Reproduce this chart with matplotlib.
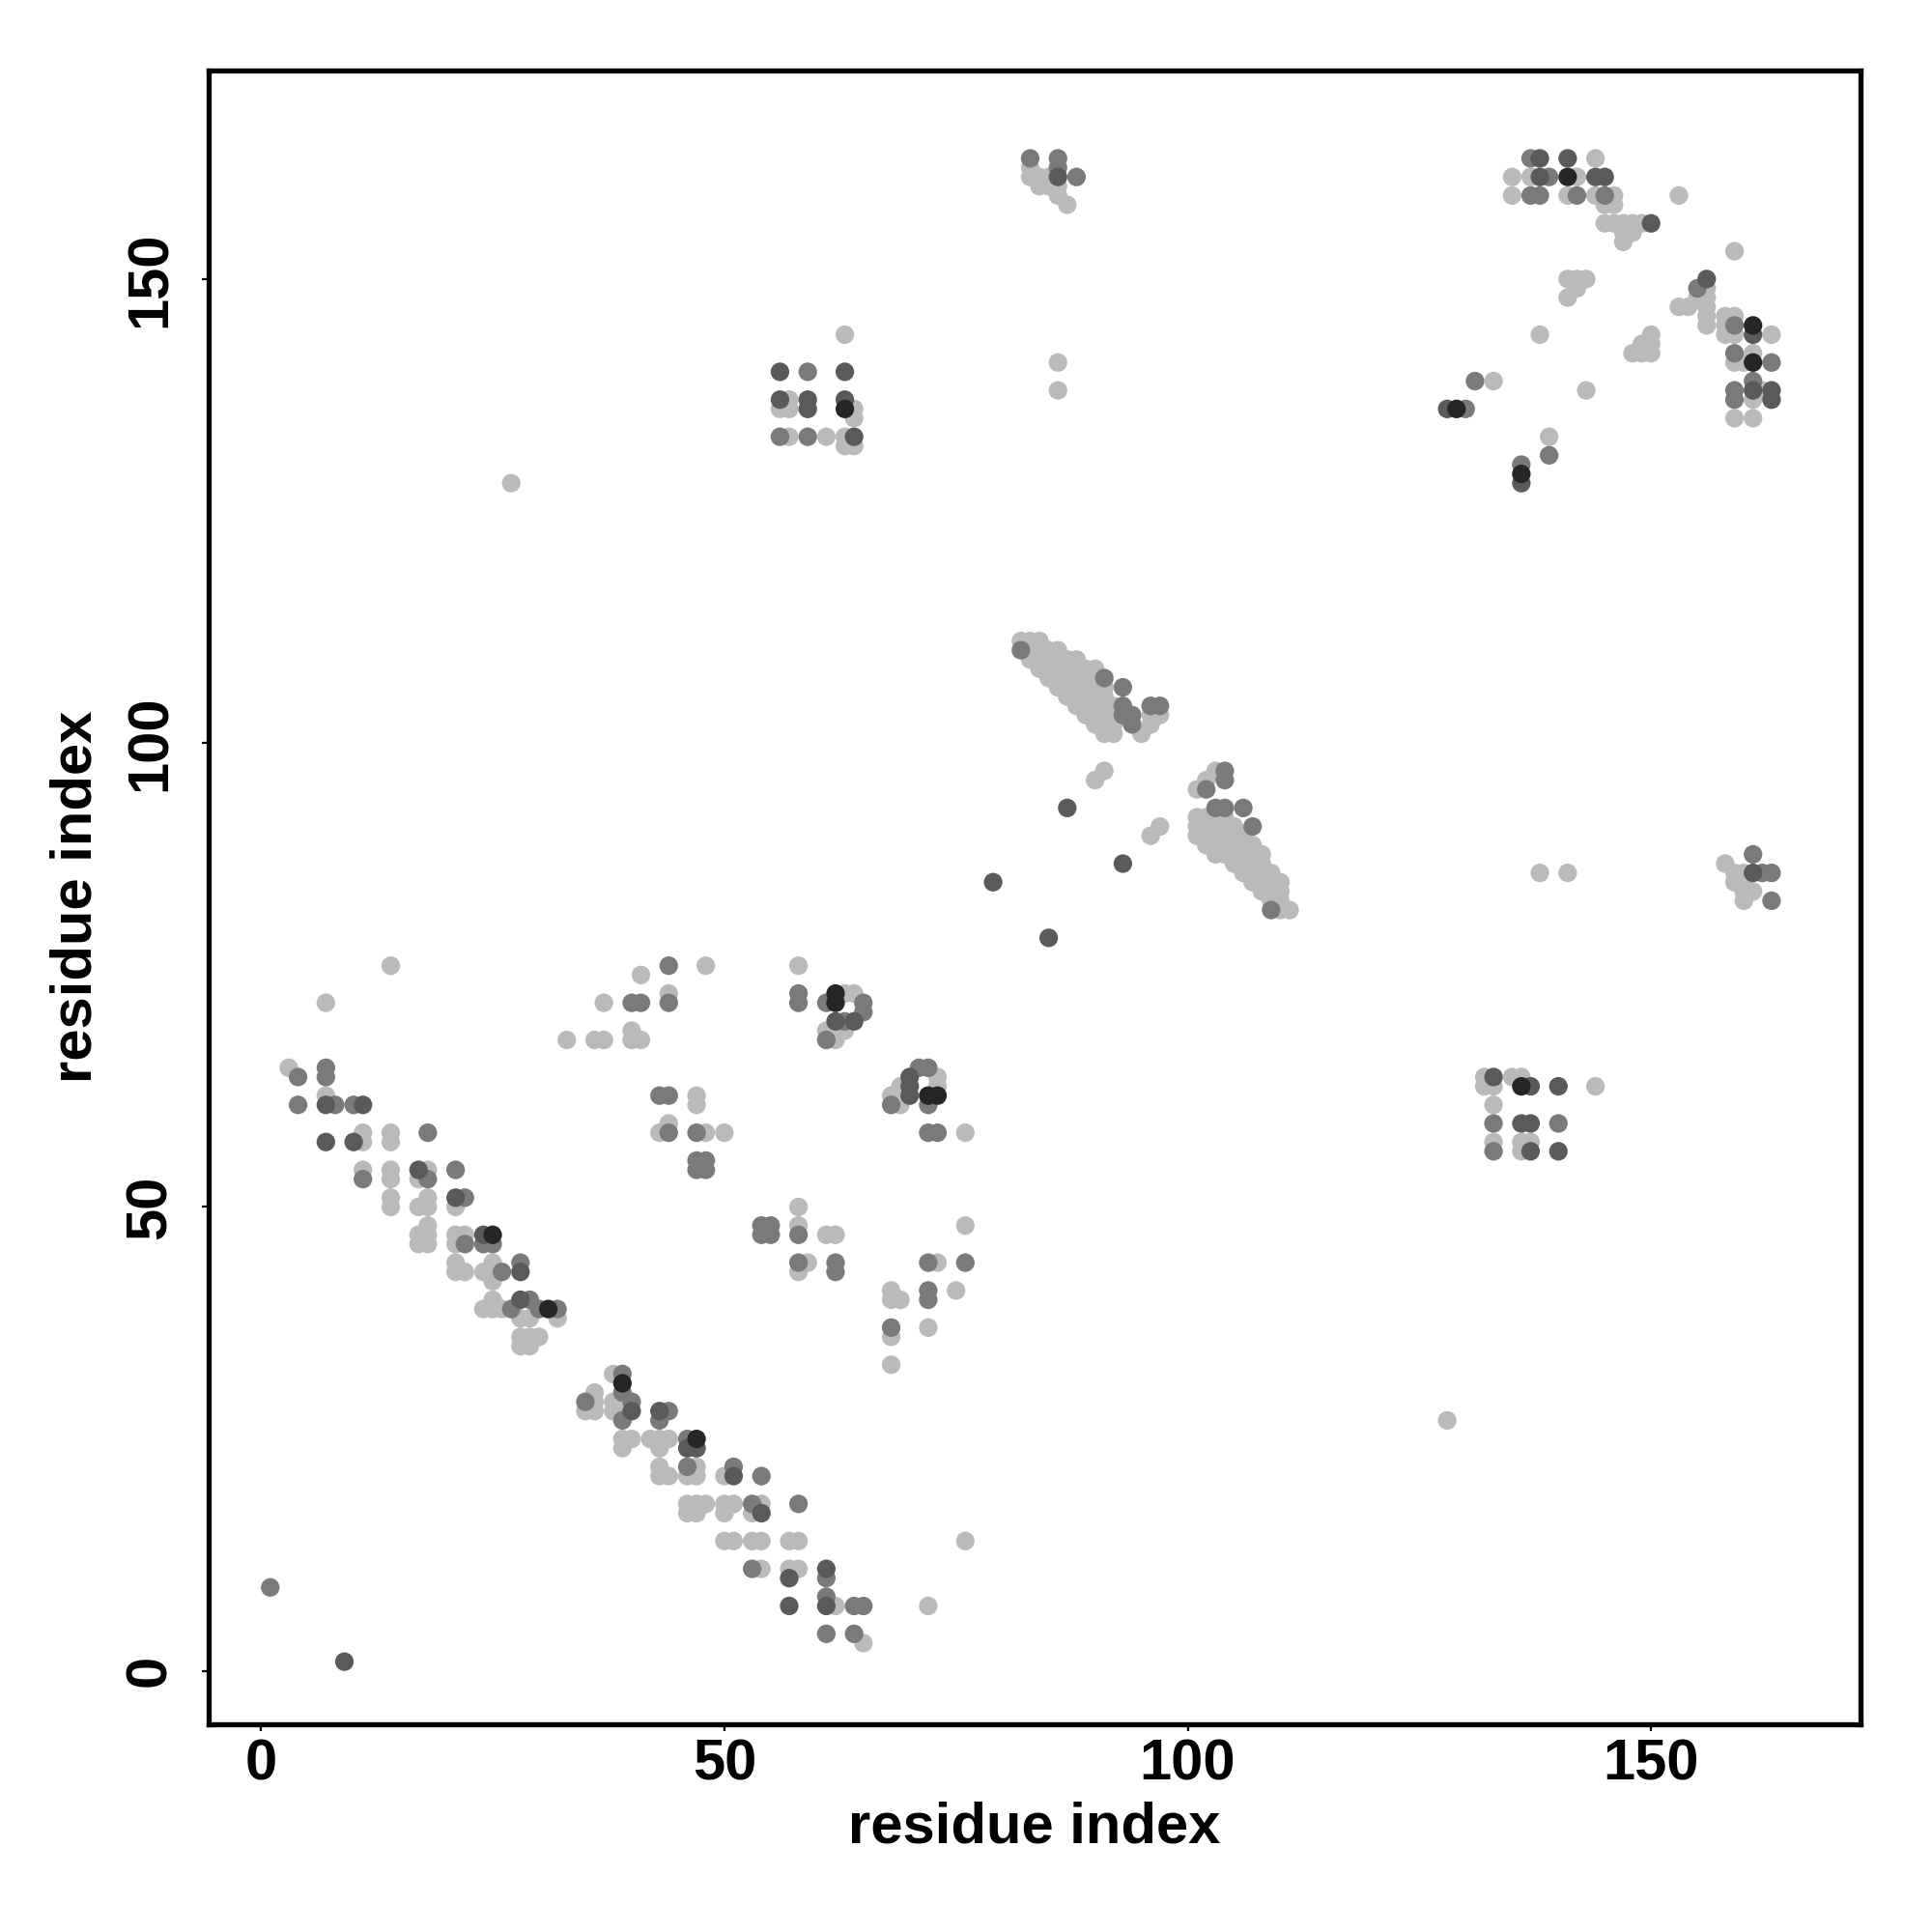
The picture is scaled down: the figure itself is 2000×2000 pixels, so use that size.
import matplotlib
matplotlib.use("Agg")
import matplotlib.pyplot as plt

# contact pairs (residue i, residue j), grouped by grey level
light_pairs = [
    (3,65),(7,62),(11,58),(11,57),(14,58),(14,57),(11,54),(14,54),(14,53),(18,54),(17,53),
    (14,51),(14,50),(17,50),(18,51),(18,50),(21,50),(18,48),(17,47),(17,46),(18,47),(18,46),
    (21,47),(22,47),(21,46),(21,44),(21,43),(22,43),(24,43),(25,44),(25,42),(24,39),(25,40),
    (25,39),(26,39),(28,38),(29,38),(32,38),(28,36),(29,36),(30,36),(28,35),(29,35),
    (7,72),(14,76),(33,68),(36,68),(37,68),
    (68,36),(68,33),(38,32),(35,28),(36,30),(36,29),(36,28),(38,29),(38,28),(39,28),(39,25),
    (39,24),(40,25),(42,25),(43,25),(44,25),(43,24),(43,22),(43,21),(44,21),(47,22),(46,21),
    (47,21),(50,21),(46,18),(47,18),(48,18),(46,17),(47,17),(50,18),(51,18),(50,17),(54,18),
    (53,17),(50,14),(51,14),(53,14),(54,14),(57,14),(58,14),(54,11),(57,11),(58,11),(62,7),(65,3),
    (41,75),(48,76),(58,76),(37,72),(44,73),(40,69),(40,68),(41,68),(63,73),(64,73),(61,69),
    (62,69),(63,69),(62,68),(47,62),(47,61),(43,58),(44,59),(48,58),(50,58),(68,62),(69,63),
    (73,64),(73,63),(69,61),(76,58),(58,50),(58,48),(61,47),(62,47),(59,44),(58,43),(68,41),
    (69,40),(68,40),(73,44),(76,48),(75,41),(72,37),(72,7),(76,14),
    # antiparallel band 82-92 / 101-111
    (82,111),(83,111),(83,110),(83,109),(84,111),(84,110),(84,109),(84,108),
    (85,110),(85,109),(85,108),(85,107),(86,110),(86,109),(86,108),(86,107),(86,106),
    (87,109),(87,108),(87,107),(87,106),(87,105),(88,109),(88,108),(88,107),(88,106),(88,105),(88,104),
    (89,108),(89,107),(89,106),(89,105),(89,104),(89,103),
    (90,108),(90,107),(90,106),(90,105),(90,104),(90,103),(90,102),
    (91,106),(91,105),(91,104),(91,103),(91,102),(91,101),(92,104),(92,103),(92,102),(92,101),
    (96,103),(97,103),(96,102),(95,101),(90,96),(91,97),(96,90),(97,91),
    # band 101-111 / 82-92
    (103,97),(102,96),(101,95),
    (101,92),(101,91),(101,90),(102,92),(102,91),(102,90),(102,89),
    (103,92),(103,91),(103,90),(103,89),(103,88),(104,92),(104,91),(104,90),(104,89),(104,88),
    (105,91),(105,90),(105,89),(105,88),(105,87),(106,90),(106,89),(106,88),(106,87),(106,86),
    (107,89),(107,88),(107,87),(107,86),(107,85),(108,88),(108,87),(108,86),(108,85),(108,84),
    (109,86),(109,85),(109,84),(109,83),(110,85),(110,84),(110,83),(110,82),(111,82),
    (63,144),(57,137),(56,136),(57,136),(64,136),(64,135),(57,133),(61,133),(63,133),(63,132),(64,132),
    (83,161),(84,161),(84,160),(85,161),(85,160),(86,159),(87,158),(86,160),(83,162),(86,141),(86,138),
    (144,163),(135,161),(137,161),(142,161),(135,159),(141,159),(144,159),(146,159),(145,158),(146,158),
    (145,156),(146,156),(147,156),(148,156),(149,156),(147,155),(148,155),(147,154),(153,159),
    (141,150),(142,150),(143,150),(141,148),(142,149),(138,144),
    (148,142),(149,142),(150,144),(150,142),(149,143),(150,143),(143,138),(133,139),(139,133),
    (159,153),(153,147),(154,147),(155,148),(156,149),(156,148),(156,147),(156,146),(156,145),
    (158,146),(159,146),(158,145),(158,144),(159,144),(163,144),(159,141),(160,141),(161,142),
    (162,138),(161,137),(159,135),(161,135),
    (132,64),(132,63),(133,63),(135,64),(136,64),(144,63),(133,61),(133,57),(136,57),(137,57),(136,56),
    (138,86),(141,86),(158,87),(159,86),(159,85),(160,85),(161,84),(160,83),(160,86),(160,84),
    (27,128),(128,27),
]

mid_pairs = [
    (4,64),(7,65),(7,64),(4,61),(8,61),(10,61),(18,58),(11,53),(18,53),(21,54),(22,51),(22,46),
    (24,46),(25,46),(26,43),(28,44),(27,39),(29,40),(30,39),(32,39),
    (68,37),(39,32),(35,29),(39,30),(40,29),(39,27),(44,28),(43,27),(46,25),(46,22),(51,22),(54,21),
    (53,18),(58,18),(53,11),(61,10),(61,8),(64,7),(65,7),(61,4),(64,4),
    (44,76),(40,72),(41,72),(44,72),(58,73),(58,72),(61,72),(65,72),(65,71),(63,70),(61,68),
    (43,62),(44,62),(44,58),(47,58),(47,55),(48,55),(47,54),(48,54),(71,65),(72,65),(68,61),(72,61),
    (72,58),(73,58),(54,48),(55,48),(54,47),(55,47),(58,47),(58,44),(62,44),(62,43),(72,41),(72,40),
    (72,44),(76,44),
    (82,110),(91,107),(93,106),(93,104),(93,103),(94,103),(94,102),(96,104),(97,104),
    (104,97),(104,96),(102,95),(103,93),(104,93),(106,93),(107,91),(109,82),
    (59,140),(56,133),(59,133),
    (83,163),(86,163),(86,162),(88,161),
    (137,163),(139,161),(137,159),(138,159),(142,159),(145,159),(131,139),(130,136),(139,131),(136,130),
    (155,149),(159,145),(159,142),(163,141),(159,138),(159,137),(161,139),
    (133,59),(140,59),(133,56),
    (161,88),(162,86),(163,86),(163,83),
    (1,9),
]

dark_pairs = [
    (7,61),(11,61),(7,57),(10,57),(17,54),(21,51),(24,47),(28,43),(28,40),
    (40,28),(43,28),(46,24),(47,24),(51,21),(54,17),(57,10),(61,11),(57,7),(61,7),
    (62,70),(64,70),(70,64),(70,63),(70,62),
    (87,93),(93,87),(85,79),(79,85),
    (56,140),(63,140),(56,137),(59,137),(59,136),(63,137),(64,133),
    (86,161),
    (138,163),(141,163),(138,161),(144,161),(145,161),(150,156),(128,136),(136,128),
    (156,150),(161,144),(161,138),(163,138),(163,137),
    (133,64),(137,63),(140,63),(136,59),(137,59),(137,56),(140,56),
    (161,86),
    (9,1),
]

black_pairs = [
    (25,47),(31,39),(39,31),(47,25),(62,73),(62,72),(72,62),(73,62),
    (63,136),(141,161),(129,136),(136,129),(161,145),(161,141),(136,63),
]

levels = [
    (light_pairs, "#bababa"),
    (mid_pairs, "#7a7a7a"),
    (dark_pairs, "#5a5a5a"),
    (black_pairs, "#262626"),
]

x_ticks = [0, 50, 100, 150]
y_ticks = [0, 50, 100, 150]
x_label = "residue index"
y_label = "residue index"

plt.rcParams['font.family'] = ['Liberation Sans', 'DejaVu Sans']
plt.rcParams['font.weight'] = 'bold'

fig = plt.figure(figsize=(10, 10), dpi=200)
ax = fig.add_axes([0.10775, 0.10775, 0.963 - 0.10775, 0.96365 - 0.10775])

for pairs, col in levels:
    xs = [p[0] for p in pairs]
    ys = [p[1] for p in pairs]
    ax.scatter(xs, ys, s=48, c=col, edgecolors='none', zorder=3)

ax.set_xlim(-5.7, 172.6)
ax.set_ylim(-5.7, 172.5)
ax.set_xticks(x_ticks)
ax.set_yticks(y_ticks)
ax.set_xticklabels([str(t) for t in x_ticks], fontsize=21.5, fontweight='bold')
ax.set_yticklabels([str(t) for t in y_ticks], fontsize=21.5, fontweight='bold',
                   rotation=90, va='center')
ax.tick_params(axis='x', length=2.5, width=0.8, pad=3, direction='out')
ax.tick_params(axis='y', length=2.5, width=0.8, pad=9, direction='out')

for sp in ax.spines.values():
    sp.set_linewidth(1.9)
    sp.set_color('black')

ax.set_xlabel(x_label, fontsize=21.5, fontweight='bold', va='center')
ax.set_ylabel(y_label, fontsize=21.5, fontweight='bold', va='center')
ax.xaxis.set_label_coords(0.5, -0.0630)
ax.yaxis.set_label_coords(-0.0798, 0.5)

fig.savefig("out.png", dpi=200, facecolor='white')
